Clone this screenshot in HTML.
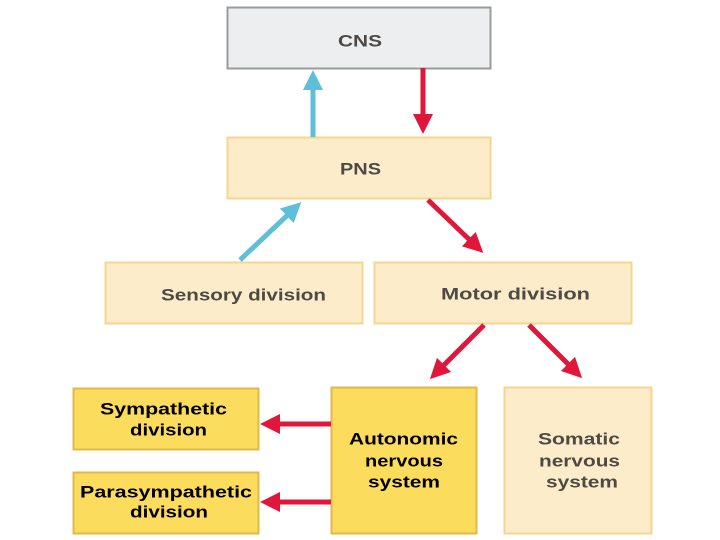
<!DOCTYPE html>
<html><head><meta charset="utf-8"><style>
html,body{margin:0;padding:0;background:#fff;}
svg{display:block;}
text{font-family:"Liberation Sans",sans-serif;font-weight:bold;font-size:17px;dominant-baseline:central;}
</style></head><body>
<svg width="720" height="540" viewBox="0 0 720 540" xmlns="http://www.w3.org/2000/svg">
<defs>
<marker id="r" markerWidth="4" markerHeight="4" refX="2" refY="2" orient="auto" markerUnits="strokeWidth"><path d="M0,0 L4,2 L0,4 z" fill="#e0173b"/></marker>
<marker id="b" markerWidth="4" markerHeight="4" refX="2" refY="2" orient="auto" markerUnits="strokeWidth"><path d="M0,0 L4,2 L0,4 z" fill="#5fbfd9"/></marker>
</defs>
<!-- boxes -->
<rect x="227.5" y="7.5" width="263" height="61" fill="#eceeef" stroke="#9a9c9c" stroke-width="2"/>
<rect x="227.5" y="137.5" width="263" height="61" fill="#fcecca" stroke="#f5d690" stroke-width="2"/>
<rect x="105.5" y="262.5" width="257" height="61" fill="#fcecca" stroke="#f5d690" stroke-width="2"/>
<rect x="374.5" y="262.5" width="257" height="61" fill="#fcecca" stroke="#f5d690" stroke-width="2"/>
<rect x="73.5" y="388.5" width="185" height="61" fill="#fcdc5c" stroke="#e2b84a" stroke-width="2"/>
<rect x="73.5" y="472.5" width="185" height="61" fill="#fcdc5c" stroke="#e2b84a" stroke-width="2"/>
<rect x="331.5" y="387.5" width="145" height="146" fill="#fcdc5c" stroke="#e2b84a" stroke-width="2"/>
<rect x="504.5" y="387.5" width="147" height="146" fill="#fcecca" stroke="#f5d690" stroke-width="2"/>
<!-- arrows -->
<line x1="313" y1="137" x2="313" y2="80" stroke="#5fbfd9" stroke-width="5" marker-end="url(#b)"/>
<line x1="423" y1="68" x2="423" y2="124" stroke="#e0173b" stroke-width="5" marker-end="url(#r)"/>
<line x1="240" y1="260" x2="294" y2="209" stroke="#5fbfd9" stroke-width="5" marker-end="url(#b)"/>
<line x1="428" y1="200" x2="476" y2="246" stroke="#e0173b" stroke-width="5" marker-end="url(#r)"/>
<line x1="484" y1="325" x2="437" y2="372" stroke="#e0173b" stroke-width="5" marker-end="url(#r)"/>
<line x1="529" y1="325" x2="575" y2="371" stroke="#e0173b" stroke-width="5" marker-end="url(#r)"/>
<line x1="331" y1="424" x2="270" y2="424" stroke="#e0173b" stroke-width="5" marker-end="url(#r)"/>
<line x1="331" y1="502" x2="270" y2="502" stroke="#e0173b" stroke-width="5" marker-end="url(#r)"/>
<!-- labels -->
<g fill="#4d4a45">
<text x="338" y="41" textLength="44" lengthAdjust="spacingAndGlyphs">CNS</text>
<text x="340" y="169" textLength="41" lengthAdjust="spacingAndGlyphs">PNS</text>
<text x="161" y="295" textLength="165" lengthAdjust="spacingAndGlyphs">Sensory division</text>
<text x="441" y="294" textLength="149" lengthAdjust="spacingAndGlyphs">Motor  division</text>
<text x="538" y="439" textLength="82" lengthAdjust="spacingAndGlyphs">Somatic</text>
<text x="539" y="461" textLength="81" lengthAdjust="spacingAndGlyphs">nervous</text>
<text x="546" y="482" textLength="72" lengthAdjust="spacingAndGlyphs">system</text>
</g>
<g fill="#000">
<text x="100" y="409" textLength="127" lengthAdjust="spacingAndGlyphs">Sympathetic</text>
<text x="130" y="430" textLength="77" lengthAdjust="spacingAndGlyphs">division</text>
<text x="80" y="492" textLength="172" lengthAdjust="spacingAndGlyphs">Parasympathetic</text>
<text x="130" y="512" textLength="78" lengthAdjust="spacingAndGlyphs">division</text>
<text x="349" y="439" textLength="109" lengthAdjust="spacingAndGlyphs">Autonomic</text>
<text x="365" y="461" textLength="78" lengthAdjust="spacingAndGlyphs">nervous</text>
<text x="368" y="482" textLength="72" lengthAdjust="spacingAndGlyphs">system</text>
</g>
</svg>
</body></html>
